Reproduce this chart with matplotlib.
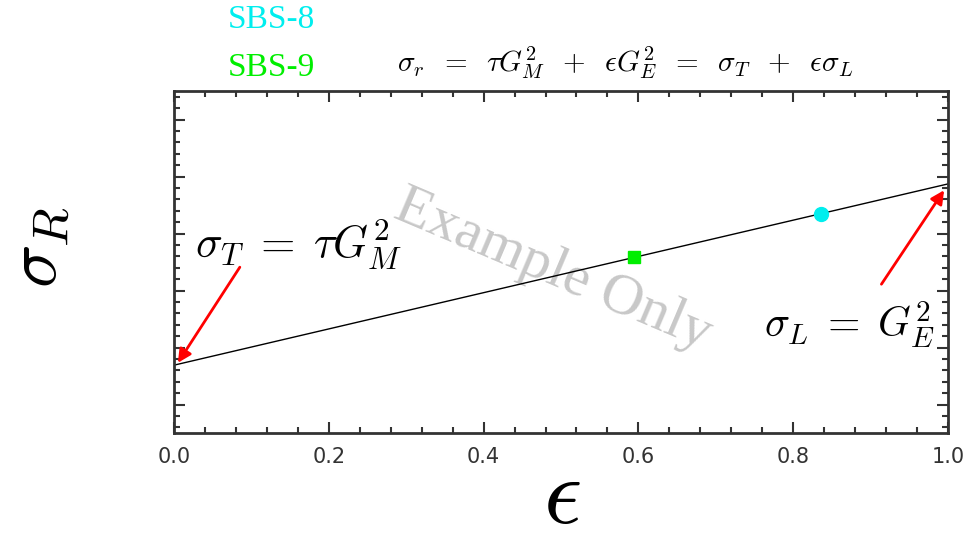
import matplotlib
matplotlib.use("Agg")
import matplotlib.pyplot as plt
from matplotlib.ticker import MultipleLocator

plt.rcParams["mathtext.fontset"] = "cm"
plt.rcParams["font.family"] = ["Liberation Serif", "DejaVu Serif"]

# data
eps_line = [0.0, 1.0]
sigma_line = [1.19, 4.37]

sbs8_eps = [0.836]
sbs8_sigma = [3.85]
sbs9_eps = [0.594]
sbs9_sigma = [3.08]

x_ticks = [0.0, 0.2, 0.4, 0.6, 0.8, 1.0]
x_labels = ["0.0", "0.2", "0.4", "0.6", "0.8", "1.0"]

fig = plt.figure(figsize=(9.63, 5.46), dpi=100)
ax = fig.add_axes([174 / 963, 1 - 433 / 546, 774 / 963, 342 / 546])

ax.plot(eps_line, sigma_line, color="black", lw=1.0)
ax.plot(sbs9_eps, sbs9_sigma, "s", color="#00ee00", ms=8, zorder=5)
ax.plot(sbs8_eps, sbs8_sigma, "o", color="#00eeee", ms=10, zorder=5)

ax.set_xlim(0, 1)
ax.set_ylim(0, 6)
ax.set_xticks(x_ticks)
ax.set_xticklabels(x_labels, fontfamily="DejaVu Sans")
ax.xaxis.set_minor_locator(MultipleLocator(0.04))
ax.yaxis.set_major_locator(MultipleLocator(1.0, offset=0.5))
ax.yaxis.set_minor_locator(MultipleLocator(0.2, offset=0.1))
ax.set_yticklabels([])
ax.tick_params(which="both", direction="in", top=True, right=True,
               color="#333333", width=1.5)
ax.tick_params(which="major", length=8)
ax.tick_params(which="minor", length=4)
ax.tick_params(axis="x", labelsize=15, labelcolor="#333333", pad=10)
for s in ax.spines.values():
    s.set_linewidth(2)
    s.set_color("#333333")

# axis labels
fig.text(562 / 963, 1 - 500 / 546, r"$\epsilon$", fontsize=68,
         ha="center", va="center")
fig.text(40 / 963, 1 - 247 / 546, r"$\sigma_R$", fontsize=52,
         rotation=90, ha="center", va="center")

# annotations
ax.annotate("", xy=(0.003, sigma_line[0]), xytext=(0.087, 2.95),
            arrowprops=dict(arrowstyle="-|>", color="red", lw=2,
                            mutation_scale=20))
ax.text(0.027, 3.3, r"$\sigma_T\;=\;\tau G_M^2$", fontsize=32, va="center")
ax.annotate("", xy=(0.997, 4.3), xytext=(0.912, 2.57),
            arrowprops=dict(arrowstyle="-|>", color="red", lw=2,
                            mutation_scale=20))
ax.text(0.762, 1.9, r"$\sigma_L\;=\;G_E^2$", fontsize=30, va="center")

# watermark
ax.text(0.49, 2.86, "Example Only", fontsize=42,
        color="#c8c8c8", rotation=-23, ha="center", va="center", zorder=0)

# header
fig.text(228 / 963, 1 - 20 / 546, "SBS-8", fontsize=24,
         color="#00eeee", va="center")
fig.text(228 / 963, 1 - 68 / 546, "SBS-9", fontsize=24,
         color="#00ee00", va="center")
fig.text(625 / 963, 1 - 63 / 546,
         r"$\sigma_r\;\;=\;\;\tau G_M^2\;\;+\;\;\epsilon G_E^2\;\;=\;\;\sigma_T\;\;+\;\;\epsilon\sigma_L$",
         fontsize=21, ha="center", va="center")

fig.savefig("out.png", dpi=100)
